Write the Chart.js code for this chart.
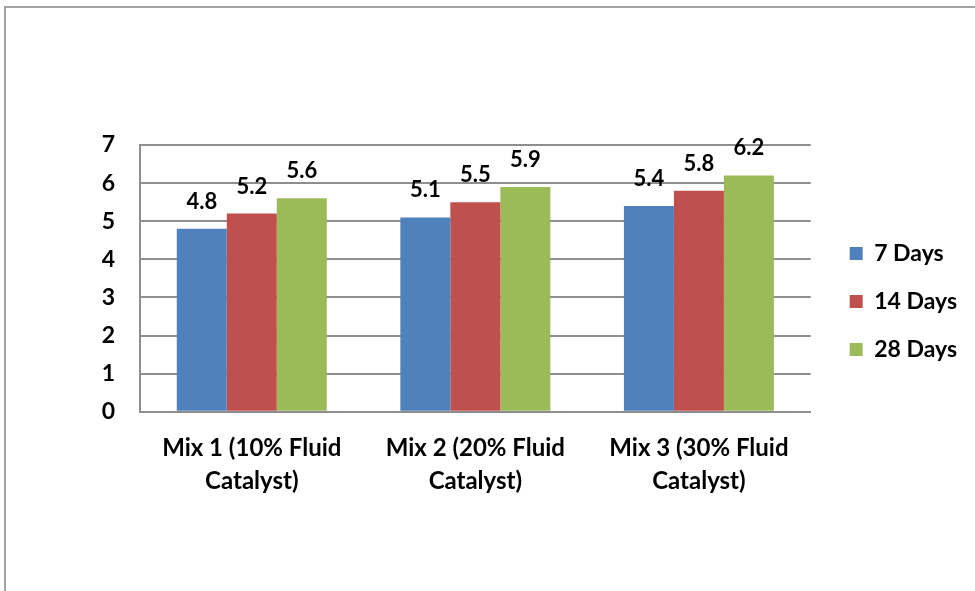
<!DOCTYPE html>
<html><head><meta charset="utf-8">
<script src="https://cdn.jsdelivr.net/npm/chart.js@4.4.0/dist/chart.umd.min.js"></script>
<style>
html,body{margin:0;padding:0;background:#fff;}
#wrap{position:relative;width:975px;height:591px;overflow:hidden;}
#frame{position:absolute;left:4px;top:6px;width:1000px;height:600px;border-left:2px solid #a3a3a3;border-top:2px solid #a3a3a3;}
canvas{position:absolute;left:0;top:0;}
</style></head><body>
<div id="wrap"><div id="frame"></div><canvas id="c" width="975" height="591"></canvas></div>
<script>
// Compressive-strength style bar chart: three mixes, three curing ages
const categories = [["Mix 1 (10% Fluid", "Catalyst)"], ["Mix 2 (20% Fluid", "Catalyst)"], ["Mix 3 (30% Fluid", "Catalyst)"]];
const seriesNames = ["7 Days", "14 Days", "28 Days"];
const days7 = [4.8, 5.1, 5.4];
const days14 = [5.2, 5.5, 5.8];
const days28 = [5.6, 5.9, 6.2];
const yMin = 0, yMax = 7, yStep = 1;

const colors = ["#4F81BD", "#C0504D", "#9BBB59"];
const gridColor = "#8e8e8e";
const FONT = "Lato, 'Open Sans', sans-serif";

// value labels above each bar
const valueLabels = {
  id: "valueLabels",
  afterDatasetsDraw(chart) {
    const ctx = chart.ctx;
    ctx.save();
    ctx.font = "bold 22px " + FONT;
    ctx.fillStyle = "#000";
    ctx.textAlign = "center";
    ctx.textBaseline = "alphabetic";
    chart.data.datasets.forEach((ds, i) => {
      chart.getDatasetMeta(i).data.forEach((bar, j) => {
        ctx.fillText(ds.data[j].toFixed(1), bar.x, bar.y - 20);
      });
    });
    ctx.restore();
  }
};

// place the legend block to the right of the plot, slightly raised
const legendShift = {
  id: "legendShift",
  afterLayout(chart) {
    const lg = chart.legend;
    if (lg) {
      lg.left += 14; lg.right += 14;
      lg.top -= 27; lg.bottom -= 27;
    }
  }
};

new Chart(document.getElementById("c"), {
  type: "bar",
  data: {
    labels: categories,
    datasets: [
      { label: seriesNames[0], data: days7, backgroundColor: colors[0] },
      { label: seriesNames[1], data: days14, backgroundColor: colors[1] },
      { label: seriesNames[2], data: days28, backgroundColor: colors[2] }
    ]
  },
  options: {
    responsive: false,
    devicePixelRatio: 1,
    animation: false,
    layout: { padding: { left: 10, top: 145, right: 22, bottom: 79 } },
    datasets: { bar: { barPercentage: 1, categoryPercentage: 0.671, borderWidth: 0 } },
    plugins: {
      legend: {
        position: "right",
        fullSize: true,
        labels: {
          boxWidth: 13, boxHeight: 13, padding: 25, color: "#000",
          font: { family: FONT, size: 23, weight: "bold" }
        }
      },
      tooltip: { enabled: false }
    },
    scales: {
      x: {
        grid: { display: false, drawTicks: false },
        border: { display: true, color: gridColor, width: 2 },
        ticks: {
          color: "#000", padding: 20, maxRotation: 0, autoSkip: false,
          font: { family: FONT, size: 24, weight: "bold", lineHeight: 1.38 }
        },
        afterFit(scale) { scale.height = 100.3; }
      },
      y: {
        min: yMin, max: yMax,
        grid: { color: gridColor, lineWidth: 2, drawTicks: false },
        border: { display: true, color: gridColor, width: 2 },
        ticks: {
          stepSize: yStep, color: "#000", padding: 25,
          font: { family: FONT, size: 23, weight: "bold" }
        },
        afterFit(scale) { scale.width = 130; }
      }
    }
  },
  plugins: [valueLabels, legendShift]
});
</script>
</body></html>
